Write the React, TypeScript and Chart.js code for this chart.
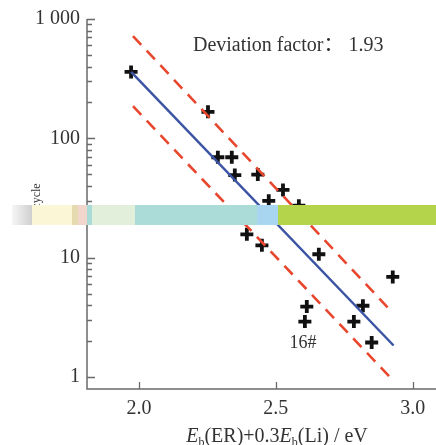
import React, { useEffect, useRef } from 'react';
import { Chart, registerables } from 'chart.js';
Chart.register(...registerables);

// ---- data ----
const pointsX = [1.971, 2.252, 2.288, 2.339, 2.35, 2.434, 2.526, 2.474, 2.584, 2.73, 2.394, 2.449, 2.657, 2.927, 2.613, 2.606, 2.818, 2.785, 2.85];
const pointsY = [360, 167, 69.5, 69.5, 49.3, 49.7, 37, 30, 27.3, 24, 15.7, 12.7, 10.7, 6.9, 3.9, 2.92, 3.96, 2.92, 1.95];
const fitX = [1.971, 2.93];
const fitY = [360, 1.84];
const upperX = [1.978, 2.915];
const upperY = [720, 3.7];
const lowerX = [1.978, 2.93];
const lowerY = [186, 0.93];
const xTicks = [2.0, 2.5, 3.0];
const xTickLabels = ['2.0', '2.5', '3.0'];
const yMajorTicks = [1, 10, 100, 1000];
const yTickLabels = ['1', '10', '100', '1 000'];
const yMinorTicks = [2, 3, 4, 5, 6, 7, 8, 9, 20, 30, 40, 50, 60, 70, 80, 90, 200, 300, 400, 500, 600, 700, 800, 900];
const xRange = [1.81, 3.085];
const yRange = [0.795, 1000];
const deviationText = 'Deviation factor\uFF1A 1.93';
const deviationPos = { x: 2.197, y: 600 };
const sampleLabel = '16#';
const sampleLabelPos = { x: 2.599, y: 1.91 };

const SERIF = '"Liberation Serif", "Noto Sans CJK SC", "Times New Roman", serif';

type Seg = { t: string; italic?: boolean; sub?: boolean };
function drawRich(ctx: CanvasRenderingContext2D, segs: Seg[], x: number, y: number, size: number, align: 'center' | 'left') {
  const subSize = Math.round(size * 0.62);
  const fontFor = (s: Seg) => `${s.italic ? 'italic ' : ''}${s.sub ? subSize : size}px ${SERIF}`;
  let total = 0;
  for (const s of segs) { ctx.font = fontFor(s); total += ctx.measureText(s.t).width; }
  let cx = align === 'center' ? x - total / 2 : x;
  ctx.textAlign = 'left';
  ctx.textBaseline = 'alphabetic';
  for (const s of segs) {
    ctx.font = fontFor(s);
    ctx.fillText(s.t, cx, y + (s.sub ? size * 0.22 : 0));
    cx += ctx.measureText(s.t).width;
  }
}

const decorPlugin = {
  id: 'decor',
  afterDatasetsDraw(chart: any) {
    const ctx: CanvasRenderingContext2D = chart.ctx;
    const { left, right, top, bottom } = chart.chartArea;
    const xs = chart.scales.x;
    const ys = chart.scales.y;
    ctx.save();
    ctx.strokeStyle = '#6a6a6a';
    ctx.lineWidth = 1.5;
    ctx.beginPath();
    ctx.moveTo(left, top);
    ctx.lineTo(left, bottom);
    ctx.lineTo(right, bottom);
    ctx.stroke();
    ctx.lineWidth = 1.3;
    ctx.beginPath();
    for (const v of yMajorTicks) {
      const p = Math.round(ys.getPixelForValue(v)) + 0.5;
      ctx.moveTo(left, p); ctx.lineTo(left + 8, p);
    }
    for (const v of yMinorTicks) {
      const p = Math.round(ys.getPixelForValue(v)) + 0.5;
      ctx.moveTo(left, p); ctx.lineTo(left + 5, p);
    }
    for (const v of xTicks) {
      const p = Math.round(xs.getPixelForValue(v)) + 0.5;
      ctx.moveTo(p, bottom); ctx.lineTo(p, bottom - 7);
    }
    ctx.stroke();

    ctx.fillStyle = '#333333';
    // x tick labels
    ctx.font = `20px ${SERIF}`;
    ctx.textAlign = 'center';
    ctx.textBaseline = 'middle';
    xTicks.forEach((v, i) => ctx.fillText(xTickLabels[i], xs.getPixelForValue(v), bottom + 20));

    // annotations
    ctx.font = `20px ${SERIF}`;
    ctx.textAlign = 'left';
    ctx.fillText(deviationText, xs.getPixelForValue(deviationPos.x), ys.getPixelForValue(deviationPos.y));
    ctx.font = `18px ${SERIF}`;
    ctx.textAlign = 'center';
    ctx.fillText(sampleLabel, xs.getPixelForValue(sampleLabelPos.x), ys.getPixelForValue(sampleLabelPos.y));

    // x title
    drawRich(ctx, [
      { t: 'E', italic: true }, { t: 'b', sub: true }, { t: '(ER)+0.3' },
      { t: 'E', italic: true }, { t: 'b', sub: true }, { t: '(Li) / eV' },
    ], 277, 442, 20, 'center');

    // y title (rotated)
    ctx.save();
    ctx.translate(36, 222);
    ctx.rotate(-Math.PI / 2);
    drawRich(ctx, [{ t: 'N', italic: true }, { t: 'cycle', sub: true }], 0, 0, 20, 'left');
    ctx.restore();

    // colour band artefact seen across the reference
    const bandTop = 205, bandH = 20;
    const g = ctx.createLinearGradient(12, 0, 32, 0);
    g.addColorStop(0, '#f6f6f6'); g.addColorStop(1, '#cfcfcf');
    ctx.fillStyle = g; ctx.fillRect(12, bandTop, 20, bandH);
    const segs: [number, number, string][] = [
      [32, 72, '#fbf6d6'], [72, 78, '#e6dab0'], [78, 87, '#f2d6cc'], [87, 92, '#a9dcd6'],
      [92, 135, '#e2efda'], [135, 257, '#abdcd7'], [257, 278, '#a8d5ef'], [278, 436, '#b3d44b'],
    ];
    for (const [a, b, c] of segs) { ctx.fillStyle = c; ctx.fillRect(a, bandTop, b - a, bandH); }
    ctx.restore();
  },
};

export default function App() {
  const ref = useRef<HTMLCanvasElement>(null);
  useEffect(() => {
    document.body.style.margin = '0';
    const canvas = ref.current!;
    const chart = new Chart(canvas, {
      type: 'scatter',
      data: {
        datasets: [
          {
            label: 'upper',
            data: upperX.map((x, i) => ({ x, y: upperY[i] })),
            showLine: true, borderColor: '#e8472e', borderWidth: 2.6, borderDash: [12, 8], pointRadius: 0,
          },
          {
            label: 'lower',
            data: lowerX.map((x, i) => ({ x, y: lowerY[i] })),
            showLine: true, borderColor: '#e8472e', borderWidth: 2.6, borderDash: [12, 8], pointRadius: 0,
          },
          {
            label: 'fit',
            data: fitX.map((x, i) => ({ x, y: fitY[i] })),
            showLine: true, borderColor: '#3c54a4', borderWidth: 2.5, pointRadius: 0,
          },
          {
            label: 'samples',
            data: pointsX.map((x, i) => ({ x, y: pointsY[i] })),
            pointStyle: 'cross', pointRadius: 6.5, borderWidth: 3.8, borderColor: '#111111', backgroundColor: '#111111',
          },
        ],
      },
      options: {
        animation: false,
        responsive: false,
        devicePixelRatio: 1,
        layout: { autoPadding: false, padding: { top: 16, right: 0, left: 0, bottom: 0 } },
        plugins: { legend: { display: false }, tooltip: { enabled: false } },
        scales: {
          x: {
            type: 'linear', min: xRange[0], max: xRange[1],
            grid: { display: false, drawTicks: false }, border: { display: false },
            afterBuildTicks: (s: any) => { s.ticks = xTicks.map((v) => ({ value: v })); },
            afterFit: (s: any) => { s.height = 56; s.paddingLeft = 0; s.paddingRight = 0; },
            ticks: { display: false },
          },
          y: {
            type: 'logarithmic', min: yRange[0], max: yRange[1],
            grid: { display: false, drawTicks: false }, border: { display: false },
            afterBuildTicks: (s: any) => { s.ticks = yMajorTicks.map((v) => ({ value: v })); },
            afterFit: (s: any) => { s.width = 87; },
            ticks: {
              padding: 7, color: '#333333', font: { family: SERIF, size: 20 },
              callback: (v: any) => { const i = yMajorTicks.indexOf(Number(v)); return i >= 0 ? yTickLabels[i] : ''; },
            },
          },
        },
      },
      plugins: [decorPlugin],
    });
    return () => chart.destroy();
  }, []);
  return (
    <div style={{ width: 436, height: 445 }}>
      <canvas ref={ref} width={436} height={445} style={{ display: 'block' }} />
    </div>
  );
}
